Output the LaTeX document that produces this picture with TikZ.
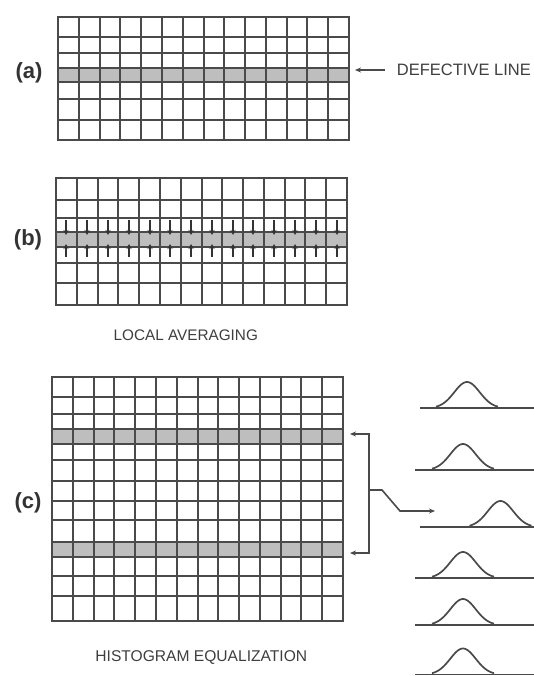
\documentclass[tikz,border=0pt]{standalone}
\usepackage{fontspec}
\setmainfont{Liberation Sans}
\usetikzlibrary{arrows.meta}
\definecolor{gl}{HTML}{4A4A4A}
\definecolor{gf}{HTML}{BEBEBE}
\definecolor{tx}{HTML}{3E3E3E}
\definecolor{lb}{HTML}{333333}
\begin{document}
\begin{tikzpicture}[x=1pt,y=-1pt,
  gridline/.style={draw=gl,line width=1.6pt},
  frame/.style={draw=gl,line width=1.8pt},
  gridnode/.style={inner sep=0pt,outer sep=0pt,anchor=north west},
  plabel/.style={font=\fontsize{22}{22}\selectfont\bfseries,text=lb,inner sep=0pt},
  caption/.style={text=tx,inner sep=0pt},
  conn/.style={draw=gl,line width=1.6pt},
  tip/.style={-{Stealth[length=6pt,width=5pt]}},
  smalltip/.style={-{Stealth[length=5pt,width=5pt]},draw=lb,line width=2pt},
  hist/.style={draw=gl,line width=1.7pt}]
\useasboundingbox (0,0) rectangle (534,676);

% ---------- grid (a)
\node[gridnode,minimum width=291pt,minimum height=123pt] (ga) at (58,17) {};
\fill[gf] (58,68) rectangle (349,82);
\foreach \i in {1,...,13} \draw[gridline] ({round(58+\i*20.786)},17) -- ({round(58+\i*20.786)},140);
\foreach \y in {37,53,68,82,99,120} \draw[gridline] (58,\y) -- (349,\y);
\draw[frame] (ga.north west) rectangle (ga.south east);
\node[plabel] (la) at (29,73) {(a)};
\node[caption,font=\fontsize{16.5}{17}\selectfont,anchor=west] (dl) at (396.7,70) {DEFECTIVE LINE};
\coordinate (dla) at (385,70);
\draw[conn,tip,shorten >=6pt] (dla) -- (ga.east |- dla);

% ---------- grid (b)
\node[gridnode,minimum width=291pt,minimum height=127pt] (gb) at (56,178) {};
\fill[gf] (56,232) rectangle (347,247);
\foreach \i in {1,...,13} \draw[gridline] ({round(56+\i*20.786)},178) -- ({round(56+\i*20.786)},305);
\foreach \y in {200,218,232,247,263,283} \draw[gridline] (56,\y) -- (347,\y);
\draw[frame] (gb.north west) rectangle (gb.south east);
\foreach \i in {0,...,13} {
  \draw[smalltip] ({round(56+(\i+0.5)*20.786)},220) -- ({round(56+(\i+0.5)*20.786)},235);
  \draw[smalltip] ({round(56+(\i+0.5)*20.786)},257) -- ({round(56+(\i+0.5)*20.786)},244);
}
\node[plabel] (lbb) at (28,240) {(b)};
\node[caption,font=\fontsize{15.3}{16}\selectfont] (la2) at (185.8,335) {LOCAL AVERAGING};

% ---------- grid (c)
\node[gridnode,minimum width=291pt,minimum height=244pt] (gc) at (52,377) {};
\fill[gf] (52,429) rectangle (343,444);
\fill[gf] (52,542) rectangle (343,557);
\foreach \i in {1,...,13} \draw[gridline] ({round(52+\i*20.786)},377) -- ({round(52+\i*20.786)},621);
\foreach \y in {397,414,429,444,460,481,501,520,542,557,576,596} \draw[gridline] (52,\y) -- (343,\y);
\draw[frame] (gc.north west) rectangle (gc.south east);
\node[plabel] (lc) at (28,503) {(c)};
\node[caption,font=\fontsize{15.6}{16}\selectfont] (he) at (201.3,657.3) {HISTOGRAM EQUALIZATION};

% ---------- bracket
\coordinate (bt) at (350,434);
\coordinate (bb) at (350,553);
\coordinate (m0) at (369,490);
\coordinate (m1) at (382,490);
\coordinate (m2) at (400,511);
\coordinate (m3) at (435,511);
\draw[conn,{Stealth[length=6pt,width=5pt]}-{Stealth[length=6pt,width=5pt]}] (bt) -- (369,434) -- (369,553) -- (bb);
\draw[conn,tip] (m0) -- (m1) -- (m2) -- (m3);

% ---------- histograms
\foreach \xa/\xc/\yb in {420/467/408, 415/463/470, 420/500.5/527, 415/463/578, 415/463/625, 415/463/674.5} {
  \draw[hist] (\xa,\yb) -- (534,\yb);
  \draw[hist] plot[domain=-31:31,samples=61,smooth] ({\xc+\x},{\yb-26*exp(-(\x*\x)/324)});
}
\end{tikzpicture}
\end{document}
